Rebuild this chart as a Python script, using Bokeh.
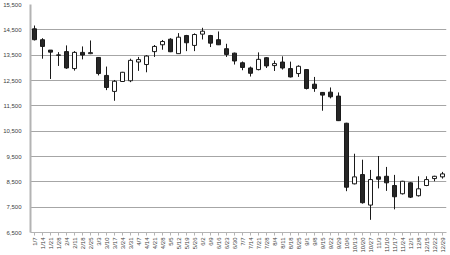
from math import pi
from bokeh.plotting import figure
from bokeh.models import ColumnDataSource, FactorRange, Range1d, FixedTicker, NumeralTickFormatter
from bokeh.embed import file_html
from bokeh.resources import INLINE

dates = ["1/7","1/14","1/21","1/28","2/4","2/11","2/18","2/25","3/3","3/10","3/17","3/24","3/31",
         "4/7","4/14","4/21","4/28","5/5","5/12","5/19","5/26","6/2","6/9","6/16","6/23","6/30",
         "7/7","7/14","7/21","7/28","8/4","8/11","8/18","8/25","9/1","9/8","9/15","9/22","9/29",
         "10/6","10/13","10/20","10/27","11/3","11/10","11/17","11/24","12/1","12/8","12/15","12/22","12/29"]

open_ = [14540, 14110, 13700, 13510, 13640, 12970, 13610, 13560, 13410, 12700, 12070, 12460, 12490,
         13230, 13130, 13640, 13910, 14130, 13560, 14275, 13885, 14330, 14275, 14110, 13755, 13580,
         13200, 12995, 12930, 13400, 13088, 13229, 12970, 12774, 12931, 12355, 12029, 12041, 11884,
         10813, 8421, 8786, 7582, 8696, 8719, 8354, 8029, 8461, 7951, 8355, 8628, 8696]
close = [14110, 13845, 13620, 13497, 12995, 13610, 13505, 13600, 12775, 12225, 12470, 12825, 13295,
         13325, 13465, 13845, 14040, 13635, 14210, 13990, 14315, 14445, 13975, 13910, 13530, 13270,
         13015, 12785, 13335, 13075, 13167, 12994, 12641, 13061, 12186, 12186, 11923, 11857, 10915,
         8288, 8696, 7676, 8590, 8602, 8461, 7911, 8523, 7896, 8225, 8590, 8719, 8814]
high = [14670, 14170, 13700, 13620, 13885, 13660, 13845, 14080, 13420, 13050, 12520, 12840, 13360,
        13430, 13500, 13900, 14100, 14170, 14370, 14300, 14360, 14580, 14300, 14435, 13950, 13600,
        13250, 13050, 13610, 13420, 13284, 13453, 13245, 13100, 12950, 12641, 12040, 12225, 12030,
        10830, 9609, 9374, 8970, 9519, 9088, 8774, 8540, 8480, 8719, 8719, 8740, 8892]
low = [14080, 13360, 12560, 13075, 12960, 12890, 13335, 13540, 12700, 12120, 11700, 12450, 12435,
       12880, 12825, 13430, 13715, 13620, 13560, 13660, 13660, 14120, 13820, 13900, 13430, 13130,
       12905, 12657, 12900, 12994, 12876, 12931, 12620, 12641, 12147, 12053, 11307, 11794, 10900,
       8131, 8400, 7640, 7000, 8241, 8143, 7413, 8000, 7860, 7920, 8330, 8523, 8628]

y_ticks = [6500, 7500, 8500, 9500, 10500, 11500, 12500, 13500, 14500, 15500]

top = [max(o, c) for o, c in zip(open_, close)]
bottom = [min(o, c) for o, c in zip(open_, close)]
fill = ["#262626" if c < o else "#ffffff" for o, c in zip(open_, close)]

src = ColumnDataSource(dict(x=dates, o=open_, c=close, h=high, l=low,
                            top=top, bottom=bottom, fill=fill))

p = figure(width=450, height=255, x_range=FactorRange(factors=dates, range_padding=0),
           y_range=Range1d(6500, 15500), output_backend="svg", toolbar_location=None,
           min_border_left=22, min_border_right=4, min_border_top=4, min_border_bottom=22)
p.outline_line_color = None
p.background_fill_color = "#ffffff"
p.border_fill_color = "#ffffff"

p.segment(x0="x", y0="l", x1="x", y1="h", source=src, line_color="#1a1a1a", line_width=1)
p.vbar(x="x", top="top", bottom="bottom", width=0.5, source=src,
       fill_color="fill", line_color="#1a1a1a", line_width=1)

p.xgrid.grid_line_color = None
p.ygrid.grid_line_color = "#a6a6a6"
p.ygrid.grid_line_width = 1

p.yaxis.ticker = FixedTicker(ticks=y_ticks)
p.yaxis.formatter = NumeralTickFormatter(format="0,0")
p.yaxis.major_tick_line_color = None
p.yaxis.minor_tick_line_color = None
p.yaxis.axis_line_color = "#b3b3b3"
p.yaxis.axis_line_width = 2
p.yaxis.major_label_standoff = 3
p.yaxis.major_label_text_font = "Liberation Sans"
p.yaxis.major_label_text_font_size = "6px"
p.yaxis.major_label_text_color = "#404040"

p.xaxis.major_label_orientation = pi / 2
p.xaxis.axis_line_color = "#b3b3b3"
p.xaxis.major_tick_line_color = "#b3b3b3"
p.xaxis.major_tick_in = 0
p.xaxis.major_tick_out = 3
p.xaxis.major_label_standoff = 2
p.xaxis.major_label_text_font = "Liberation Sans"
p.xaxis.major_label_text_font_size = "6px"
p.xaxis.major_label_text_color = "#404040"

open("out.html", "w").write(file_html(p, INLINE))
